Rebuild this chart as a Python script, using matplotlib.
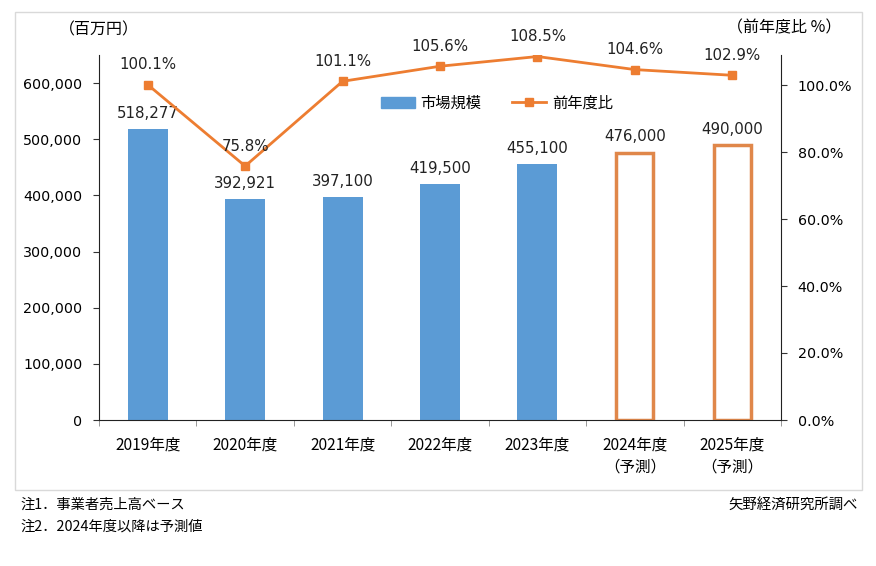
import matplotlib
matplotlib.use("Agg")
import matplotlib.pyplot as plt
from matplotlib.patches import Rectangle
from matplotlib.lines import Line2D
from matplotlib.patches import Patch
import numpy as np

plt.rcParams['font.family'] = ['DejaVu Sans', 'Noto Sans CJK JP']

years = ["2019年度", "2020年度", "2021年度", "2022年度", "2023年度", "2024年度", "2025年度"]
forecast = [False, False, False, False, False, True, True]
market = [518277, 392921, 397100, 419500, 455100, 476000, 490000]
yoy = [100.1, 75.8, 101.1, 105.6, 108.5, 104.6, 102.9]
left_ticks = [0, 100000, 200000, 300000, 400000, 500000, 600000]
right_ticks = [0, 20, 40, 60, 80, 100]

BLUE = "#5B9BD5"
ORANGE = "#ED7D31"
OUT_ORANGE = "#E0874A"
JP = ['Noto Sans CJK JP']

fig = plt.figure(figsize=(8.76, 5.66), dpi=100)
fig.patches.append(Rectangle((15/876, 1-490/566), (862-15)/876, (490-12)/566,
                             transform=fig.transFigure, fill=False, edgecolor="#D9D9D9", lw=1))

ax = fig.add_axes([99/876, 1-420/566, (781-99)/876, (420-55)/566])
x = np.arange(len(years))
for i in range(len(years)):
    if forecast[i]:
        ax.bar(x[i], market[i], width=0.38, facecolor="white", edgecolor=OUT_ORANGE, linewidth=2.5, zorder=2)
    else:
        ax.bar(x[i], market[i], width=0.41, color=BLUE, zorder=2)
    ax.annotate(f"{market[i]:,}", (x[i], market[i]), xytext=(0, 6), textcoords="offset points",
                ha="center", va="bottom", fontsize=10.8, color="#222222")

ax.set_xlim(-0.5, len(years) - 0.5)
ax.set_ylim(0, 650000)
ax.set_yticks(left_ticks)
ax.set_yticklabels([f"{v:,}" for v in left_ticks], fontsize=10.3)
labels = [y + ("\n（予測）" if f else "") for y, f in zip(years, forecast)]
ax.set_xticks(x)
ax.set_xticklabels(labels, fontsize=11.2, family=JP, linespacing=1.35, va="top")
ax.tick_params(axis="x", length=0, pad=12)
ax.set_xticks(np.arange(-0.5, len(years)), minor=True)
ax.tick_params(axis="x", which="minor", length=4, color="#888888")
ax.tick_params(axis="y", length=4, pad=8, color="#333333")
for s in ["top", "right"]:
    ax.spines[s].set_visible(False)
ax.spines["left"].set_color("#222222")
ax.spines["bottom"].set_color("#222222")

ax2 = ax.twinx()
ax2.set_ylim(0, 100 * 365 / 335)
ax2.plot(x, yoy, color=ORANGE, lw=2, marker="s", markersize=6, zorder=3)
for i in range(len(years)):
    ax2.annotate(f"{yoy[i]:.1f}%", (x[i], yoy[i]), xytext=(0, 9), textcoords="offset points",
                 ha="center", va="bottom", fontsize=10.8, color="#222222")
ax2.set_yticks(right_ticks)
ax2.set_yticklabels([f"{v:.1f}%" for v in right_ticks], fontsize=10.3)
ax2.tick_params(axis="y", length=4, pad=8, color="#333333")
for s in ["top", "left", "bottom"]:
    ax2.spines[s].set_visible(False)
ax2.spines["right"].set_color("#222222")

handles = [Patch(color=BLUE), Line2D([0], [0], color=ORANGE, lw=2, marker="s", markersize=6)]
fig.legend(handles, ["市場規模", "前年度比"], loc="center", bbox_to_anchor=(497/876, 1-103/566),
           ncol=2, frameon=False, handlelength=2.2, columnspacing=2.0, handletextpad=0.4,
           prop={'family': JP, 'size': 11})

fig.text(99/876, 1-30/566, "（百万円）", fontsize=11.5, ha="center", va="center", family=JP)
fig.text(784/876, 1-28/566, "（前年度比 %）", fontsize=11.5, ha="center", va="center", family=JP)
fig.text(20/876, 1-505/566, "注1．事業者売上高ベース", fontsize=10.3, ha="left", va="center", family=JP)
fig.text(20/876, 1-527/566, "注2．2024年度以降は予測値", fontsize=10.3, ha="left", va="center", family=JP)
fig.text(858/876, 1-505/566, "矢野経済研究所調べ", fontsize=10.4, ha="right", va="center", family=JP)

fig.savefig("out.png", dpi=100)
